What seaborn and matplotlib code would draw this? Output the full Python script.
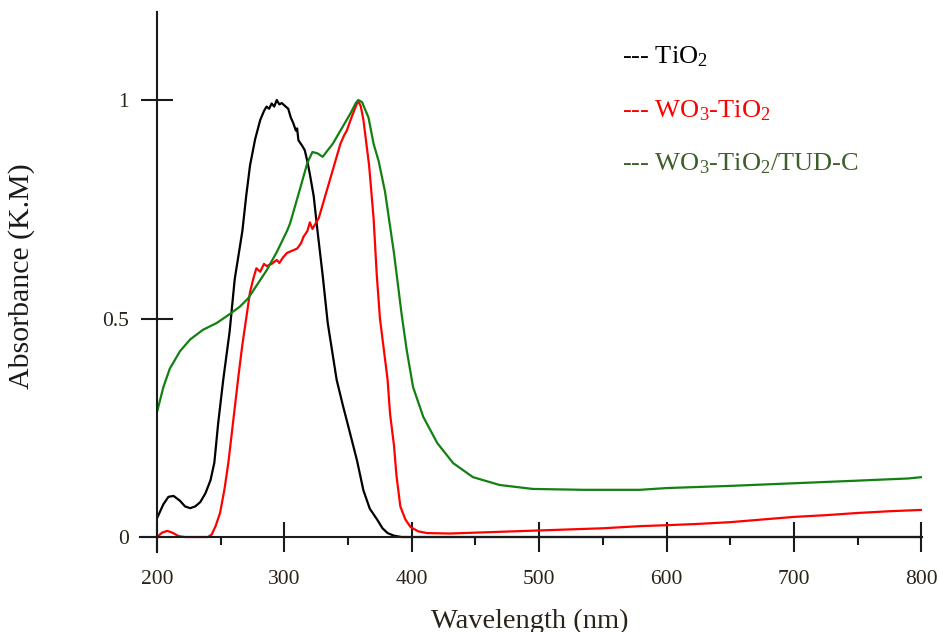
import matplotlib
matplotlib.use("Agg")
import matplotlib.pyplot as plt
import pandas as pd
import seaborn as sns

# Absorbance (K.M) readings, wavelength in nm
tio2_nm = [200, 205, 209, 213, 218, 222, 226, 230, 234, 238, 242, 245, 248, 252,
           257, 261, 267, 270, 273, 277, 281, 284, 286, 288, 290, 292, 294, 296,
           298, 301, 303, 305, 307, 309, 310, 311, 314, 316, 318, 320, 323, 326,
           330, 334, 341, 346, 350, 357, 362, 367, 373, 377, 381, 386, 392, 450,
           600, 800]
tio2_abs = [0.043, 0.075, 0.092, 0.094, 0.083, 0.070, 0.066, 0.070, 0.080, 0.100,
            0.130, 0.170, 0.260, 0.360, 0.470, 0.590, 0.700, 0.780, 0.850, 0.910,
            0.954, 0.975, 0.985, 0.980, 0.992, 0.985, 1.000, 0.990, 0.993, 0.985,
            0.980, 0.960, 0.947, 0.930, 0.935, 0.908, 0.895, 0.885, 0.860, 0.830,
            0.780, 0.700, 0.600, 0.490, 0.360, 0.300, 0.255, 0.175, 0.107, 0.065,
            0.039, 0.020, 0.009, 0.003, 0.000, 0.000, 0.000, 0.000]

wo3_nm = [200, 204, 208, 212, 217, 222, 240, 243, 246, 249.5, 253, 256, 260, 264,
          267, 270.5, 273, 275.5, 278, 281, 284, 286, 290, 294, 296, 299, 302,
          306, 310, 313, 315, 318, 320, 322, 324, 327, 330, 333, 336, 338, 341,
          344, 347, 349, 352, 354, 356, 358, 360, 362, 366.5, 370, 372.5, 375,
          378, 381, 383, 386, 388, 391, 395, 399, 405, 412, 430, 450, 500, 550,
          580, 600, 625, 650, 675, 700, 725, 750, 775, 800]
wo3_abs = [0.000, 0.010, 0.014, 0.010, 0.002, 0.000, 0.000, 0.006, 0.025, 0.055,
           0.110, 0.170, 0.270, 0.370, 0.440, 0.510, 0.560, 0.590, 0.615, 0.607,
           0.625, 0.620, 0.625, 0.634, 0.627, 0.640, 0.650, 0.655, 0.660, 0.672,
           0.687, 0.700, 0.720, 0.705, 0.715, 0.730, 0.760, 0.790, 0.820, 0.840,
           0.870, 0.900, 0.920, 0.930, 0.955, 0.970, 0.985, 0.998, 0.985, 0.955,
           0.850, 0.730, 0.600, 0.500, 0.430, 0.360, 0.280, 0.210, 0.140, 0.070,
           0.040, 0.023, 0.013, 0.009, 0.008, 0.010, 0.015, 0.020, 0.025, 0.027,
           0.030, 0.034, 0.040, 0.046, 0.050, 0.055, 0.059, 0.062]

tud_nm = [200, 205, 210, 218, 226, 236, 247, 257, 265, 271.5, 278.5, 286, 294, 302,
          304.5, 312, 318, 322, 326, 330, 334, 338, 346, 352, 356, 358, 361, 366,
          370, 374, 379, 386, 392, 396, 401, 409, 420, 432.5, 448, 469, 495, 535,
          579, 600, 650, 700, 750, 790, 800]
tud_abs = [0.286, 0.343, 0.385, 0.425, 0.452, 0.474, 0.490, 0.510, 0.527, 0.546,
           0.577, 0.610, 0.652, 0.700, 0.718, 0.794, 0.856, 0.881, 0.878, 0.870,
           0.885, 0.900, 0.940, 0.970, 0.993, 1.000, 0.995, 0.960, 0.900, 0.860,
           0.790, 0.650, 0.510, 0.428, 0.343, 0.275, 0.215, 0.169, 0.137, 0.119,
           0.110, 0.108, 0.108, 0.112, 0.117, 0.123, 0.129, 0.134, 0.137]

series = [
    ("TiO2", tio2_nm, tio2_abs, "black"),
    ("WO3-TiO2", wo3_nm, wo3_abs, "#ff0000"),
    ("WO3-TiO2/TUD-C", tud_nm, tud_abs, "#128012"),
]

sns.set_style("white")
plt.rcParams["font.family"] = ["Liberation Serif", "DejaVu Serif"]
plt.rcParams["mathtext.fontset"] = "custom"
plt.rcParams["mathtext.rm"] = "Liberation Serif"
plt.rcParams["mathtext.it"] = "Liberation Serif:italic"

fig = plt.figure(figsize=(9.39, 6.32), dpi=100)
ax = fig.add_axes([140 / 939, 80 / 632, 782 / 939, 540 / 632])

for name, nm, ab, col in series:
    df = pd.DataFrame({"nm": nm, "abs": ab})
    sns.lineplot(data=df, x="nm", y="abs", color=col, linewidth=1.6, ax=ax)

ax.set_xlim(186.65, 800.5)
ax.set_ylim(-0.0343, 1.2014)

ax.spines["top"].set_visible(False)
ax.spines["right"].set_visible(False)
ax.spines["left"].set_position(("data", 200))
ax.spines["bottom"].set_position(("data", 0))
for s in ("left", "bottom"):
    ax.spines[s].set_linewidth(1.5)
    ax.spines[s].set_color("#1a1a1a")

ax.set_xticks([200, 300, 400, 500, 600, 700, 800])
ax.set_xticks([250, 350, 450, 550, 650, 750], minor=True)
ax.set_yticks([0, 0.5, 1])
ax.set_yticklabels(["0", "0.5", "1"])
ax.tick_params(axis="x", which="both", bottom=True)
ax.tick_params(axis="y", which="major", left=True)
ax.tick_params(axis="x", which="major", direction="inout", length=22, width=1.5,
               color="#1a1a1a", labelsize=15.5, pad=13, labelcolor="#2a2418")
ax.tick_params(axis="x", which="minor", direction="out", length=6, width=1.5,
               color="#1a1a1a")
ax.tick_params(axis="y", which="major", direction="inout", length=23, width=1.5,
               color="#1a1a1a", labelsize=15.5, pad=8.5, labelcolor="#2a2418")
ax.set_xlabel("")
ax.set_ylabel("")

fig.text(22 / 939, 1 - 276 / 632, "Absorbance (K.M)", rotation=90,
         ha="center", va="center", fontsize=21.5, color="#1a1a1a")
fig.text(530 / 939, 1 - 621 / 632, "Wavelength (nm)", ha="center", va="center",
         fontsize=20.5, color="#2a2418")

legend_items = [
    (r"--- TiO$_\mathrm{2}$", "black", 63),
    (r"--- WO$_\mathrm{3}$-TiO$_\mathrm{2}$", "#ff0000", 117),
    (r"--- WO$_\mathrm{3}$-TiO$_\mathrm{2}$/TUD-C", "#3f5f2a", 170),
]
for txt, col, ypx in legend_items:
    fig.text(622 / 939, 1 - ypx / 632, txt, ha="left", va="baseline",
             fontsize=19, color=col)

fig.savefig("out.png", dpi=100)
